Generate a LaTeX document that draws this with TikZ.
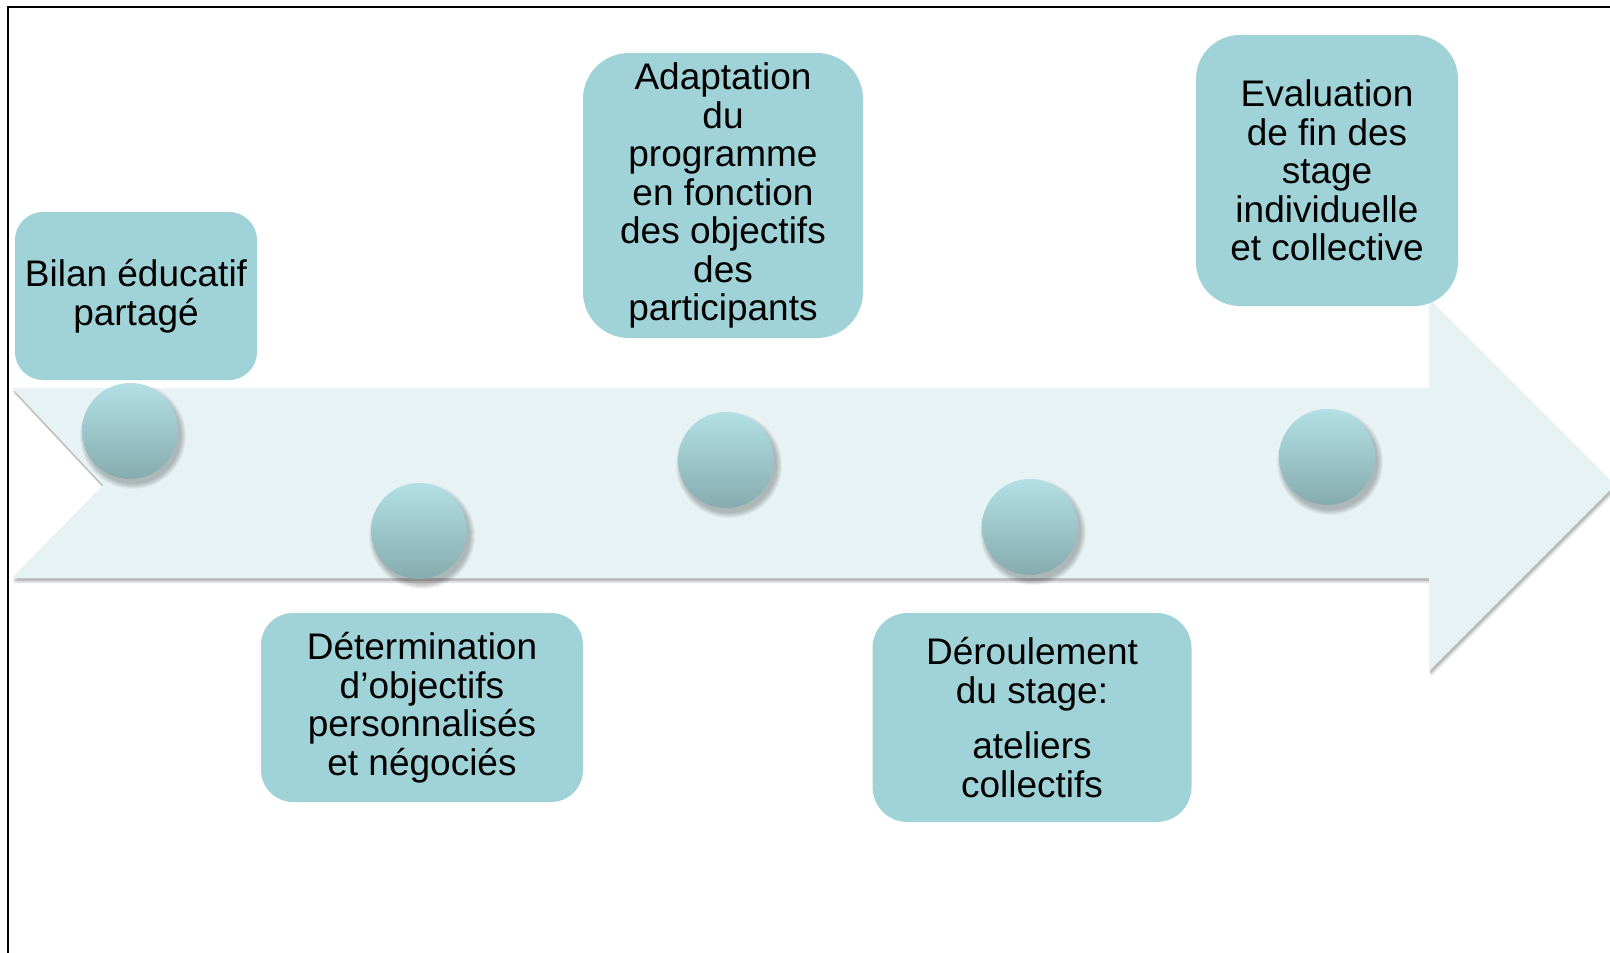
\documentclass[tikz,border=0pt]{standalone}
\usepackage{fontspec}
\setmainfont{Liberation Sans}
\definecolor{boxfill}{HTML}{9FD3D7}
\definecolor{arrowfill}{HTML}{E6F2F4}
\definecolor{ctop}{HTML}{B2E0E5}
\definecolor{cbot}{HTML}{86ABAE}
\definecolor{shadowgray}{HTML}{8C8C8C}
\begin{document}
\begin{tikzpicture}[x=1pt,y=-1pt,
  stepbox/.style={fill=boxfill, align=center, inner sep=0pt, text=black,
    font=\fontsize{37}{38.5}\selectfont},
  ball/.style={circle, minimum size=96pt, inner sep=0pt, top color=ctop, bottom color=cbot, draw=none},
  ballshadow/.style={circle, inner sep=0pt, fill=black, opacity=0.045, draw=none},
]
\useasboundingbox (0,0) rectangle (1610,953);
\clip (0,0) rectangle (1610,953);
\fill[white] (0,0) rectangle (1610,953);

\def\arrowpath{(12,388) -- (1429,388) -- (1429,299) -- (1615,485) -- (1429,671) -- (1429,578) -- (12,578) -- (103,485) -- cycle}

% arrow shadow
\begin{scope}[shift={(2,5)}]
  \fill[shadowgray, opacity=0.25] \arrowpath;
\end{scope}
\begin{scope}[shift={(1,3)}]
  \fill[shadowgray, opacity=0.45] \arrowpath;
\end{scope}
% arrow body
\fill[arrowfill] \arrowpath;

% step boxes
\node[stepbox, rounded corners=28pt, minimum width=242pt, minimum height=168pt] (b1) at (136,296) {Bilan éducatif\\partagé};
\node[stepbox, rounded corners=32pt, minimum width=322pt, minimum height=189pt] (b2) at (422,707.5) {Détermination\\d’objectifs\\personnalisés\\et négociés};
\node[stepbox, rounded corners=46pt, minimum width=280pt, minimum height=285pt] (b3) at (723,195.5) {Adaptation\\du\\programme\\en fonction\\des objectifs\\des\\participants};
\node[stepbox, rounded corners=35pt, minimum width=319pt, minimum height=209pt] (b4) at (1032,717.5) {Déroulement\\du stage:\\[17pt]ateliers\\collectifs};
\node[stepbox, rounded corners=44pt, minimum width=262pt, minimum height=271pt] (b5) at (1327,170.5) {Evaluation\\de fin des\\stage\\individuelle\\et collective};

% balls with soft shadows
\foreach \n/\cx/\cy in {c1/130/431, c2/419/531, c3/726/460, c4/1030/527, c5/1327/457}{
  \foreach \k in {0,2,4,6,8,10}{
    \node[ballshadow, minimum size={96pt+\k pt}] at (\cx+3,\cy+5) {};
  }
  \node[ball] (\n) at (\cx,\cy) {};
}

% frame
\draw[black, line width=2.5pt] (8,953) -- (8,7) -- (1610,7);
\end{tikzpicture}
\end{document}
